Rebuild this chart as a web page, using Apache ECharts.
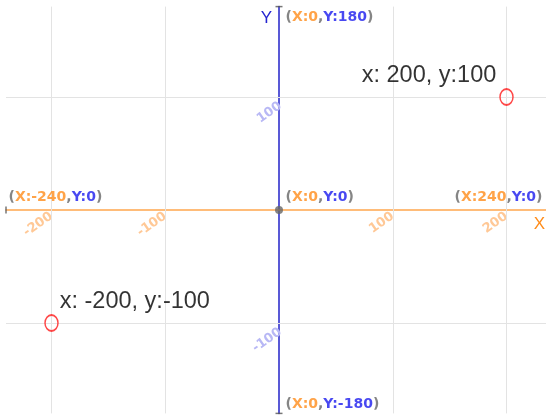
<!DOCTYPE html>
<html><head><meta charset="utf-8">
<script src="https://cdn.jsdelivr.net/npm/echarts@6/dist/echarts.min.js"></script>
<style>html,body{margin:0;padding:0;background:#fff}#c{width:546px;height:419px}</style>
</head><body><div id="c"></div>
<script>
const xRange = [-240, 240];
const yRange = [-180, 180];
const xTicks = [-200, -100, 100, 200];
const yTicks = [-100, 100];
const points = [[200, 100], [-200, -100]];
const pointLabels = ['x: 200, y:100', 'x: -200, y:-100'];
const corners = [[-240, 0], [0, 0], [240, 0], [0, 180], [0, -180]];
const origin = [[0, 0]];

const GRID = {left: 6, top: 6.6, width: 546, height: 406.8};
const chart = echarts.init(document.getElementById('c'));
const annot = (p) => '{p|(}{x|X:' + p[0] + '}{p|,}{y|Y:' + p[1] + '}{p|)}';
const AF = {fontWeight: 'bold', fontSize: 14, fontFamily: 'DejaVu Sans'};
const annRich = {
  p: Object.assign({color: '#666'}, AF),
  x: Object.assign({color: '#ff8c1a'}, AF),
  y: Object.assign({color: '#1a1aee'}, AF)
};
const annPos = [
  {position: 'right', distance: 2, offset: [0, -13]},
  {position: 'right', distance: 6, offset: [0, -13]},
  {position: 'left', distance: 9, offset: [0, -13]},
  {position: 'right', distance: 6, offset: [0, 11]},
  {position: 'right', distance: 6, offset: [0, -9]}
];
const gridLine = {color: '#e3e3e3', width: 1, type: 'solid'};

chart.setOption({
  animation: false,
  grid: Object.assign({outerBoundsMode: 'none', containLabel: false}, GRID),
  xAxis: {
    type: 'value', min: xRange[0], max: xRange[1], interval: 20,
    position: 'bottom', offset: -GRID.height / 2,
    name: 'X', nameLocation: 'end', nameGap: -7,
    nameTextStyle: {color: '#ff8c1a', fontSize: 17, align: 'right', verticalAlign: 'top', padding: [6, 0, 0, 0]},
    axisLine: {onZero: false, lineStyle: {color: '#ffa64d', width: 1.5}},
    axisTick: {show: false},
    splitLine: {show: false},
    axisLabel: {customValues: xTicks, rotate: 35, margin: 5, color: '#ffc896', fontWeight: 'bold', fontSize: 13, fontFamily: 'DejaVu Sans'}
  },
  yAxis: {
    type: 'value', min: yRange[0], max: yRange[1], interval: 20,
    position: 'left', offset: -GRID.width / 2,
    name: 'Y', nameLocation: 'end', nameGap: -20,
    nameTextStyle: {color: '#2424d0', fontSize: 17, align: 'right', padding: [0, 7, 0, 0]},
    axisLine: {onZero: false, lineStyle: {color: '#2222c8', width: 1.5}},
    axisTick: {show: false},
    splitLine: {show: false},
    axisLabel: {customValues: yTicks, rotate: 35, margin: 4, verticalAlign: 'top', padding: [3, 0, 0, 0], color: '#b8b8f5', fontWeight: 'bold', fontSize: 13, fontFamily: 'DejaVu Sans'}
  },
  series: [
    {
      type: 'scatter', symbolSize: 0, data: [],
      markLine: {
        silent: true, symbol: 'none', label: {show: false}, lineStyle: gridLine,
        data: xTicks.map(v => ({xAxis: v})).concat(yTicks.map(v => ({yAxis: v})))
      },
      z: 1
    },
    {
      type: 'scatter', symbol: 'circle', symbolSize: 1,
      itemStyle: {color: 'rgba(0,0,0,0)'},
      data: corners.map((p, i) => ({value: p, label: Object.assign({show: true, formatter: annot(p), rich: annRich}, annPos[i])})),
      z: 5
    },
    {
      type: 'scatter', symbol: 'rect',
      itemStyle: {color: '#555'},
      data: [
        {value: corners[0], symbolSize: [1.5, 7]},
        {value: corners[3], symbolSize: [7, 1.5]},
        {value: corners[4], symbolSize: [7, 1.5]}
      ],
      z: 4
    },
    {
      type: 'scatter', symbol: 'circle', symbolSize: 8,
      itemStyle: {color: '#666'},
      data: origin, z: 6
    },
    {
      type: 'scatter', symbol: 'circle', symbolSize: [13, 16],
      itemStyle: {color: 'rgba(0,0,0,0)', borderColor: '#ff1a1a', borderWidth: 1.6},
      data: points.map((p, i) => ({
        value: p,
        label: {show: true, formatter: pointLabels[i], color: '#000', fontSize: 23.5,
          fontFamily: 'Liberation Sans',
          position: i === 0 ? 'left' : 'right', distance: i === 0 ? 3 : 1, offset: [0, -21]}
      })),
      z: 7
    }
  ]
});
</script></body></html>
